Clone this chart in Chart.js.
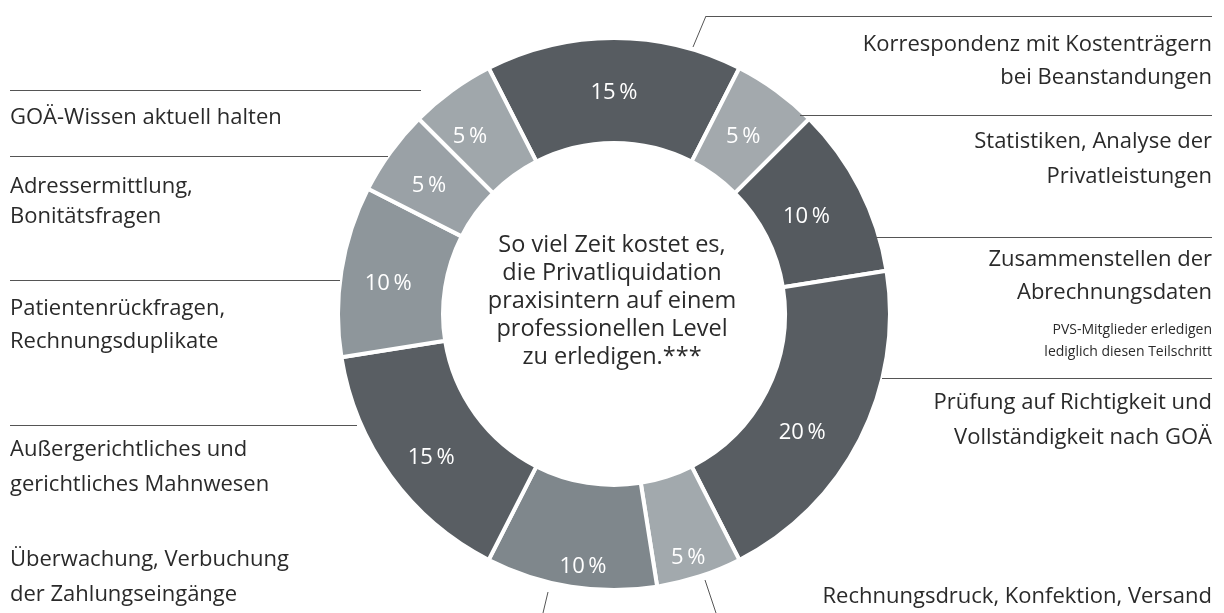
<!DOCTYPE html>
<html lang="de">
<head>
<meta charset="utf-8">
<title>Privatliquidation Zeitaufwand</title>
<script src="https://cdn.jsdelivr.net/npm/chart.js@4/dist/chart.umd.min.js"></script>
<style>
    html, body { margin: 0; padding: 0; background: #fff; }
    canvas { display: block; }
</style>
</head>
<body>
<canvas id="donut" width="1224" height="613"></canvas>
<script>
// Chart data, clockwise from the top segment
const categories = [
    ['Korrespondenz mit Kostenträgern', 'bei Beanstandungen'],
    ['Statistiken, Analyse der', 'Privatleistungen'],
    ['Zusammenstellen der', 'Abrechnungsdaten'],
    ['Prüfung auf Richtigkeit und', 'Vollständigkeit nach GOÄ'],
    ['Rechnungsdruck, Konfektion, Versand'],
    ['Überwachung, Verbuchung', 'der Zahlungseingänge'],
    ['Außergerichtliches und', 'gerichtliches Mahnwesen'],
    ['Patientenrückfragen,', 'Rechnungsduplikate'],
    ['Adressermittlung,', 'Bonitätsfragen'],
    ['GOÄ-Wissen aktuell halten']
];
const shares = [15, 5, 10, 20, 5, 10, 15, 10, 5, 5];
const noteLines = ['PVS-Mitglieder erledigen', 'lediglich diesen Teilschritt'];
const centerLines = [
    'So viel Zeit kostet es,',
    'die Privatliquidation',
    'praxisintern auf einem',
    'professionellen Level',
    'zu erledigen.***'
];

const segmentColors = [
    '#575c61', '#a3a9ad', '#555a5f', '#585d62', '#a2a9ad',
    '#7f878c', '#595e63', '#8e969b', '#9aa1a6', '#a0a7ab'
];

const FONT = '"Open Sans", Lato, sans-serif';

// where each percent value is written: radius (ring runs 186..274) and angle nudge in degrees
const valueRadius = [222, 220, 216, 222, 254, 254, 232, 228, 226, 229];
const valueNudge = [0, 0, 0, 5, 1, -2, -2, -1, -1, -3];

// where each category label sits (by index in categories)
const labelLayout = [
    { side: 'right', ys: [45, 78], rule: [706, 1212, 16] },
    { side: 'right', ys: [142, 177], rule: [800, 1212, 115] },
    { side: 'right', ys: [260, 293], rule: [876, 1212, 237] },
    { side: 'right', ys: [403, 438], rule: [882, 1212, 378] },
    { side: 'right', ys: [597] },
    { side: 'left', ys: [560, 595] },
    { side: 'left', ys: [450, 485], rule: [10, 357, 425] },
    { side: 'left', ys: [309, 342], rule: [10, 340, 280] },
    { side: 'left', ys: [187, 217], rule: [10, 388, 156] },
    { side: 'left', ys: [118], rule: [10, 421, 90] }
];

const annotationPlugin = {
    id: 'annotations',
    afterDatasetsDraw(chart) {
        const ctx = chart.ctx;
        const meta = chart.getDatasetMeta(0);
        ctx.save();

        // percent values inside the ring
        ctx.fillStyle = '#ffffff';
        ctx.font = '22px ' + FONT;
        ctx.textAlign = 'center';
        ctx.textBaseline = 'middle';
        meta.data.forEach((arc, i) => {
            const mid = (arc.startAngle + arc.endAngle) / 2 + valueNudge[i] * Math.PI / 180;
            const r = valueRadius[i];
            ctx.fillText(shares[i] + '\u2009%', arc.x + Math.cos(mid) * r, arc.y + Math.sin(mid) * r + 1);
        });

        // text in the hole
        const cx = meta.data[0].x;
        ctx.fillStyle = '#2a2a2a';
        ctx.font = '23.5px ' + FONT;
        centerLines.forEach((line, i) => {
            ctx.fillText(line, cx - 2, 245 + i * 28);
        });

        // category labels with their rules
        ctx.strokeStyle = '#555';
        ctx.lineWidth = 1;
        categories.forEach((lines, i) => {
            const lay = labelLayout[i];
            ctx.textAlign = lay.side === 'left' ? 'left' : 'right';
            const x = lay.side === 'left' ? 10 : 1212;
            ctx.fillStyle = '#2a2a2a';
            ctx.font = '22px ' + FONT;
            lines.forEach((line, j) => ctx.fillText(line, x, lay.ys[j]));
            if (lay.rule) {
                ctx.beginPath();
                ctx.moveTo(lay.rule[0], lay.rule[2] + 0.5);
                ctx.lineTo(lay.rule[1], lay.rule[2] + 0.5);
                ctx.stroke();
            }
        });

        // small note under "Abrechnungsdaten"
        ctx.textAlign = 'right';
        ctx.font = '14px ' + FONT;
        noteLines.forEach((line, j) => ctx.fillText(line, 1212, 330 + j * 22));

        // little leader ticks
        ctx.beginPath();
        ctx.moveTo(706, 16);
        ctx.lineTo(693, 47);
        ctx.moveTo(548, 592);
        ctx.lineTo(543, 613);
        ctx.moveTo(705, 580);
        ctx.lineTo(716, 613);
        ctx.stroke();

        ctx.restore();
    }
};

new Chart(document.getElementById('donut'), {
    type: 'doughnut',
    data: {
        labels: categories.map(c => c.join(' ')),
        datasets: [{
            data: shares,
            backgroundColor: segmentColors,
            borderColor: '#ffffff',
            borderWidth: 4,
            hoverOffset: 0
        }]
    },
    options: {
        responsive: false,
        animation: false,
        devicePixelRatio: 1,
        rotation: -27,
        radius: 276,
        cutout: 184,
        layout: { padding: { left: 4, right: 0, top: 15, bottom: 0 } },
        plugins: {
            legend: { display: false },
            tooltip: { enabled: false }
        }
    },
    plugins: [annotationPlugin]
});
</script>
</body>
</html>
